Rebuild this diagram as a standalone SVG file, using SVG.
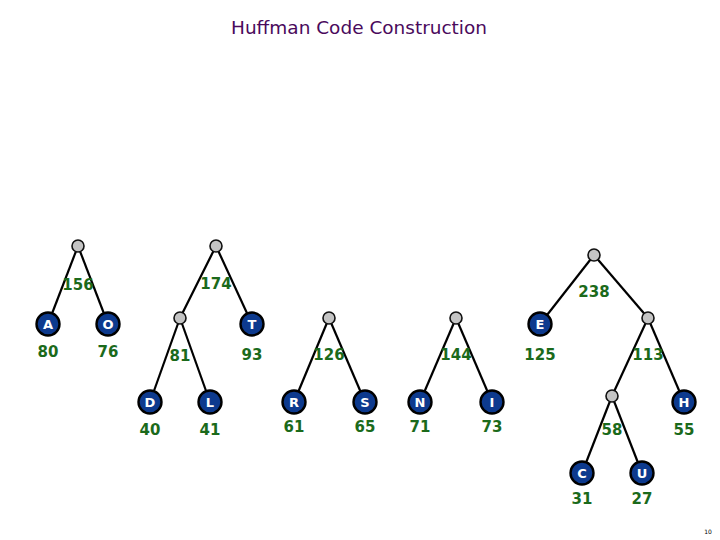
<svg xmlns="http://www.w3.org/2000/svg" width="720" height="540" viewBox="0 0 720 540">
<style>
.e{stroke:#000;stroke-width:2.2;fill:none}
.g{fill:#c4c4c4;stroke:#111;stroke-width:1.6}
.b{fill:#0d3a8e;stroke:#000;stroke-width:2.4}
.l{font-family:"DejaVu Sans",sans-serif;font-weight:bold;font-size:13px;fill:#fff;text-anchor:middle}
.n{font-family:"DejaVu Sans",sans-serif;font-weight:bold;font-size:15px;fill:#1b6a1b;text-anchor:middle}
.t{font-family:"DejaVu Sans",sans-serif;font-size:18px;fill:#4a0a5c;text-anchor:middle}
</style>
<rect width="720" height="540" fill="#fff"/>
<text class="t" x="359" y="34" textLength="256" lengthAdjust="spacingAndGlyphs">Huffman Code Construction</text>
<g id="edges">
<line class="e" x1="78" y1="246" x2="48" y2="324"/>
<line class="e" x1="78" y1="246" x2="108" y2="324"/>
<line class="e" x1="216" y1="246" x2="180" y2="318"/>
<line class="e" x1="216" y1="246" x2="252" y2="324"/>
<line class="e" x1="180" y1="318" x2="150" y2="402"/>
<line class="e" x1="180" y1="318" x2="210" y2="402"/>
<line class="e" x1="329" y1="318" x2="294" y2="402"/>
<line class="e" x1="329" y1="318" x2="365" y2="402"/>
<line class="e" x1="456" y1="318" x2="420" y2="402"/>
<line class="e" x1="456" y1="318" x2="492" y2="402"/>
<line class="e" x1="594" y1="255" x2="540" y2="324"/>
<line class="e" x1="594" y1="255" x2="648" y2="318"/>
<line class="e" x1="648" y1="318" x2="612" y2="396"/>
<line class="e" x1="648" y1="318" x2="684" y2="402"/>
<line class="e" x1="612" y1="396" x2="582" y2="473"/>
<line class="e" x1="612" y1="396" x2="642" y2="473"/>
</g>
<g id="n156"><circle class="g" cx="78" cy="246" r="6"/><text class="n" x="78" y="290">156</text></g>
<g id="nA"><circle class="b" cx="48" cy="324" r="11.5"/><text class="l" x="48" y="328.5">A</text><text class="n" x="48" y="357">80</text></g>
<g id="nO"><circle class="b" cx="108" cy="324" r="11.5"/><text class="l" x="108" y="328.5">O</text><text class="n" x="108" y="357">76</text></g>
<g id="n174"><circle class="g" cx="216" cy="246" r="6"/><text class="n" x="216" y="289">174</text></g>
<g id="n81"><circle class="g" cx="180" cy="318" r="6"/><text class="n" x="180" y="361">81</text></g>
<g id="nT"><circle class="b" cx="252" cy="324" r="11.5"/><text class="l" x="252" y="328.5">T</text><text class="n" x="252" y="360">93</text></g>
<g id="nD"><circle class="b" cx="150" cy="402" r="11.5"/><text class="l" x="150" y="406.5">D</text><text class="n" x="150" y="435">40</text></g>
<g id="nL"><circle class="b" cx="210" cy="402" r="11.5"/><text class="l" x="210" y="406.5">L</text><text class="n" x="210" y="435">41</text></g>
<g id="n126"><circle class="g" cx="329" cy="318" r="6"/><text class="n" x="329" y="360">126</text></g>
<g id="nR"><circle class="b" cx="294" cy="402" r="11.5"/><text class="l" x="294" y="406.5">R</text><text class="n" x="294" y="432">61</text></g>
<g id="nS"><circle class="b" cx="365" cy="402" r="11.5"/><text class="l" x="365" y="406.5">S</text><text class="n" x="365" y="432">65</text></g>
<g id="n144"><circle class="g" cx="456" cy="318" r="6"/><text class="n" x="456" y="360">144</text></g>
<g id="nN"><circle class="b" cx="420" cy="402" r="11.5"/><text class="l" x="420" y="406.5">N</text><text class="n" x="420" y="432">71</text></g>
<g id="nI"><circle class="b" cx="492" cy="402" r="11.5"/><text class="l" x="492" y="406.5">I</text><text class="n" x="492" y="432">73</text></g>
<g id="n238"><circle class="g" cx="594" cy="255" r="6"/><text class="n" x="594" y="297">238</text></g>
<g id="nE"><circle class="b" cx="540" cy="324" r="11.5"/><text class="l" x="540" y="328.5">E</text><text class="n" x="540" y="360">125</text></g>
<g id="n113"><circle class="g" cx="648" cy="318" r="6"/><text class="n" x="648" y="360">113</text></g>
<g id="n58"><circle class="g" cx="612" cy="396" r="6"/><text class="n" x="612" y="435">58</text></g>
<g id="nH"><circle class="b" cx="684" cy="402" r="11.5"/><text class="l" x="684" y="406.5">H</text><text class="n" x="684" y="435">55</text></g>
<g id="nC"><circle class="b" cx="582" cy="473" r="11.5"/><text class="l" x="582" y="477.5">C</text><text class="n" x="582" y="504">31</text></g>
<g id="nU"><circle class="b" cx="642" cy="473" r="11.5"/><text class="l" x="642" y="477.5">U</text><text class="n" x="642" y="504">27</text></g>
<text x="708" y="533.5" font-family="DejaVu Sans,sans-serif" font-size="6" fill="#000" text-anchor="middle">10</text>
</svg>
